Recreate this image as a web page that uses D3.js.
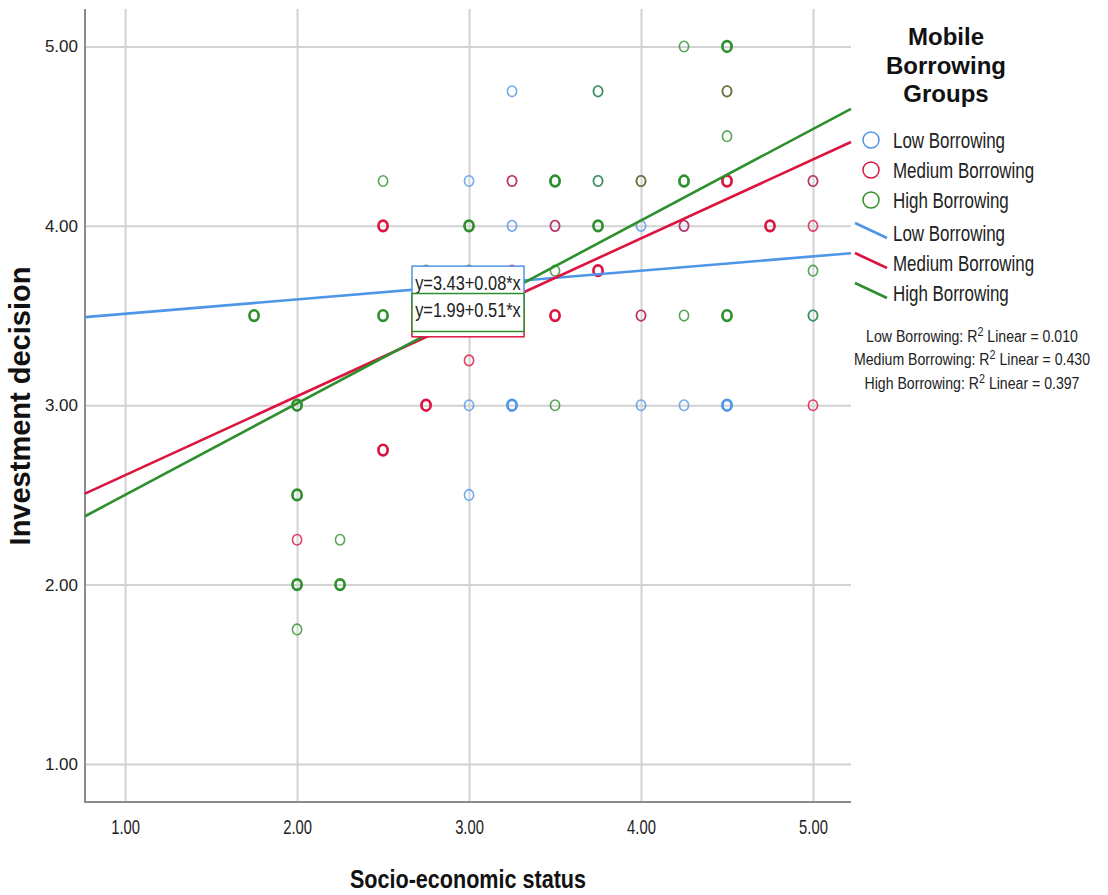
<!DOCTYPE html>
<html>
<head>
<meta charset="utf-8">
<script src="https://cdn.jsdelivr.net/npm/d3@7"></script>
<style>
  body { margin: 0; background: #fff; }
  svg { display: block; }
  text { font-family: 'Liberation Sans', Arial, sans-serif; }
</style>
</head>
<body>
<div id="chart"></div>
<script>
// groups and fit values
const groups = ['Low Borrowing', 'Medium Borrowing', 'High Borrowing'];
const intercepts = [3.43, 2.17, 1.99];
const slopes = [0.08, 0.44, 0.51];
const rSquared = ['0.010', '0.430', '0.397'];
const equationLabels = ['y=3.43+0.08*x', null, 'y=1.99+0.51*x'];

// cases: [socio-economic status, investment decision, number of overlapping cases]
const lowPoints = [
  [3.25, 4.75, 1], [3.0, 4.25, 1], [3.25, 4.25, 1], [3.25, 4.0, 1], [4.0, 4.0, 1],
  [3.5, 4.0, 1], [4.25, 4.0, 1], [3.0, 3.0, 1], [3.25, 3.0, 2], [4.0, 3.0, 1],
  [4.25, 3.0, 1], [4.5, 3.0, 2], [3.0, 2.5, 1], [3.75, 4.25, 1], [3.75, 4.75, 1],
  [4.0, 3.5, 1], [5.0, 4.25, 1], [5.0, 3.5, 1]
];
const mediumPoints = [
  [2.5, 4.0, 2], [3.25, 4.25, 1], [3.25, 3.75, 1], [3.0, 3.25, 1], [2.75, 3.0, 2],
  [2.5, 2.75, 2], [2.0, 2.25, 1], [3.5, 3.5, 2], [3.5, 4.0, 1], [3.75, 3.75, 2],
  [4.0, 4.25, 1], [4.0, 3.5, 1], [4.25, 4.0, 1], [4.5, 4.25, 2], [4.5, 4.75, 1],
  [4.75, 4.0, 2], [5.0, 4.0, 1], [5.0, 4.25, 1], [5.0, 3.0, 1], [3.5, 4.25, 1]
];
const highPoints = [
  [1.75, 3.5, 2], [2.0, 3.0, 2], [2.0, 2.5, 2], [2.0, 2.0, 2], [2.0, 1.75, 1],
  [2.25, 2.25, 1], [2.25, 2.0, 2], [2.5, 4.25, 1], [2.5, 3.5, 2], [2.75, 3.75, 1],
  [3.0, 4.0, 2], [3.0, 3.75, 1], [3.5, 4.25, 2], [3.5, 3.75, 1], [3.5, 3.0, 1],
  [3.75, 4.25, 1], [3.75, 4.75, 1], [3.75, 4.0, 2], [4.0, 4.25, 1], [4.25, 5.0, 1],
  [4.25, 4.25, 2], [4.25, 3.5, 1], [4.5, 5.0, 2], [4.5, 4.75, 1], [4.5, 4.5, 1],
  [4.5, 3.5, 2], [5.0, 3.75, 1], [5.0, 3.5, 1]
];
const pointSets = [lowPoints, mediumPoints, highPoints];

const xTicks = [1, 2, 3, 4, 5];
const yTicks = [1, 2, 3, 4, 5];
const xDomain = [0.767, 5.221];
const yDomain = [0.788, 5.209];

const colors = ['#4f95e8', '#dc1440', '#2d8f2d'];

const width = 1108, height = 895;
const plot = { left: 85, right: 851, top: 9, bottom: 802 };

const svg = d3.select('#chart').append('svg')
  .attr('width', width).attr('height', height);

const x = d3.scaleLinear().domain(xDomain).range([plot.left, plot.right]);
const y = d3.scaleLinear().domain(yDomain).range([plot.bottom, plot.top]);
const fmt = d3.format('.2f');

// squeeze text horizontally around its x anchor (no condensed font installed)
function narrow(sel, k) {
  sel.each(function () {
    const t = d3.select(this);
    const x0 = +t.attr('x') || 0;
    t.attr('transform', `translate(${x0},0) scale(${k},1) translate(${-x0},0)`);
  });
}

// grid + tick labels
svg.append('g')
  .attr('transform', 'translate(' + plot.left + ',0)')
  .call(d3.axisLeft(y).tickValues(yTicks).tickFormat(fmt)
    .tickSize(-(plot.right - plot.left)).tickPadding(7))
  .call(g => g.select('.domain').remove())
  .call(g => g.selectAll('.tick line').attr('stroke', '#d2d2d2').attr('stroke-width', 2))
  .call(g => g.selectAll('.tick text')
    .attr('font-size', 17).attr('fill', '#222'));

svg.append('g')
  .attr('transform', 'translate(0,' + plot.bottom + ')')
  .call(d3.axisBottom(x).tickValues(xTicks).tickFormat(fmt)
    .tickSize(-(plot.bottom - plot.top)).tickPadding(18))
  .call(g => g.select('.domain').remove())
  .call(g => g.selectAll('.tick line').attr('stroke', '#d2d2d2').attr('stroke-width', 2))
  .call(g => g.selectAll('.tick text')
    .attr('font-size', 20).attr('fill', '#222').call(narrow, 0.74));

// axis lines
svg.append('line')
  .attr('x1', plot.left).attr('x2', plot.left)
  .attr('y1', plot.top).attr('y2', plot.bottom + 1)
  .attr('stroke', '#8c8c8c').attr('stroke-width', 2);
svg.append('line')
  .attr('x1', plot.left - 1).attr('x2', plot.right)
  .attr('y1', plot.bottom).attr('y2', plot.bottom)
  .attr('stroke', '#8c8c8c').attr('stroke-width', 2);

// markers
const strokeW = d3.scaleLinear().domain([1, 2]).range([1.6, 2.7]);
const strokeOp = d3.scaleLinear().domain([1, 2]).range([0.8, 1]);

pointSets.forEach((pts, i) => {
  svg.append('g').selectAll('ellipse')
    .data(pts)
    .enter().append('ellipse')
    .attr('cx', d => x(d[0]))
    .attr('cy', d => y(d[1]))
    .attr('rx', 4.6)
    .attr('ry', 5.3)
    .attr('fill', 'none')
    .attr('stroke', colors[i])
    .attr('stroke-width', d => strokeW(d[2]))
    .attr('stroke-opacity', d => strokeOp(d[2]));
});

// fit lines
const fitLine = d3.line().x(d => x(d[0])).y(d => y(d[1]));
groups.forEach((g, i) => {
  svg.append('path')
    .datum(xDomain.map(v => [v, intercepts[i] + slopes[i] * v]))
    .attr('d', fitLine)
    .attr('fill', 'none')
    .attr('stroke', colors[i])
    .attr('stroke-width', 2.6);
});

// equation boxes, centred on each line at mid x
const midX = (xDomain[0] + xDomain[1]) / 2;
const boxW = 112, boxH = 38;
[1, 0, 2].forEach(i => {
  const cx = x(midX), cy = y(intercepts[i] + slopes[i] * midX);
  const g = svg.append('g');
  g.append('rect')
    .attr('x', cx - boxW / 2).attr('y', cy - boxH / 2)
    .attr('width', boxW).attr('height', boxH)
    .attr('fill', '#fff').attr('stroke', colors[i]).attr('stroke-width', 1.5);
  if (equationLabels[i]) {
    g.append('text')
      .attr('x', cx).attr('y', cy + 5)
      .attr('text-anchor', 'middle')
      .attr('font-size', 21).attr('fill', '#222')
      .text(equationLabels[i])
      .call(narrow, 0.78);
  }
});

// axis titles
svg.append('text')
  .attr('x', (plot.left + plot.right) / 2).attr('y', 888)
  .attr('text-anchor', 'middle')
  .attr('font-size', 26).attr('font-weight', 'bold').attr('fill', '#111')
  .text('Socio-economic status')
  .call(narrow, 0.83);

svg.append('text')
  .attr('transform', 'translate(30,406) rotate(-90)')
  .attr('text-anchor', 'middle')
  .attr('font-size', 29).attr('font-weight', 'bold').attr('fill', '#111')
  .text('Investment decision');

// legend
const legend = svg.append('g');
legend.selectAll('.lt')
  .data(['Mobile', 'Borrowing', 'Groups'])
  .enter().append('text')
  .attr('x', 946).attr('y', (d, i) => 45 + i * 28.5)
  .attr('text-anchor', 'middle')
  .attr('font-size', 24).attr('font-weight', 'bold').attr('fill', '#111')
  .text(d => d);

groups.forEach((g, i) => {
  const cy = 140 + i * 30;
  legend.append('circle')
    .attr('cx', 871).attr('cy', cy).attr('r', 8)
    .attr('fill', 'none').attr('stroke', colors[i]).attr('stroke-width', 1.5);
  legend.append('text')
    .attr('x', 893).attr('y', cy + 8)
    .attr('font-size', 22).attr('fill', '#222').text(g)
    .call(narrow, 0.77);
});

groups.forEach((g, i) => {
  const ly = 223 + i * 30;
  legend.append('line')
    .attr('x1', 855).attr('y1', ly).attr('x2', 887).attr('y2', ly + 15)
    .attr('stroke', colors[i]).attr('stroke-width', 2.6);
  legend.append('text')
    .attr('x', 893).attr('y', ly + 18)
    .attr('font-size', 22).attr('fill', '#222').text(g)
    .call(narrow, 0.77);
});

// R squared notes
groups.forEach((g, i) => {
  const t = legend.append('text')
    .attr('x', 972).attr('y', 342 + i * 23.5)
    .attr('text-anchor', 'middle')
    .attr('font-size', 17).attr('fill', '#222');
  t.append('tspan').text(g + ': R');
  t.append('tspan').attr('dy', -6).attr('font-size', 13).text('2');
  t.append('tspan').attr('dy', 6).text(' Linear = ' + rSquared[i]);
  t.call(narrow, 0.83);
});
</script>
</body>
</html>
